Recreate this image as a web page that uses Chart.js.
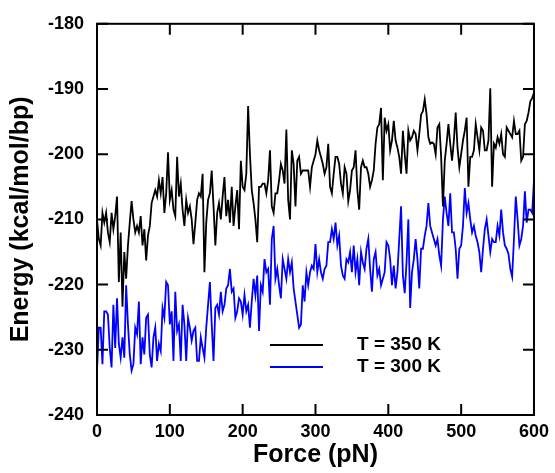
<!DOCTYPE html>
<html>
<head>
<meta charset="utf-8">
<title>Energy vs Force</title>
<script src="https://cdn.jsdelivr.net/npm/chart.js@4.4.0/dist/chart.umd.min.js"></script>
<style>
    html, body { margin: 0; padding: 0; background: #fff; }
    #wrap { width: 555px; height: 473px; }
</style>
</head>
<body>
<div id="wrap"><canvas id="energy-chart" width="555" height="473"></canvas></div>
<script>
// Force values (pN), read every 2.5 pN
const force = [
    0, 2.5, 5, 7.5, 10, 12.5, 15, 17.5, 20, 22.5,
    25, 27.5, 30, 32.5, 35, 37.5, 40, 42.5, 45, 47.5,
    50, 52.5, 55, 57.5, 60, 62.5, 65, 67.5, 70, 72.5,
    75, 77.5, 80, 82.5, 85, 87.5, 90, 92.5, 95, 97.5,
    100, 102.5, 105, 107.5, 110, 112.5, 115, 117.5, 120, 122.5,
    125, 127.5, 130, 132.5, 135, 137.5, 140, 142.5, 145, 147.5,
    150, 152.5, 155, 157.5, 160, 162.5, 165, 167.5, 170, 172.5,
    175, 177.5, 180, 182.5, 185, 187.5, 190, 192.5, 195, 197.5,
    200,
    202.5, 205, 207.5, 210, 212.5, 215, 217.5, 220, 222.5, 225,
    227.5, 230, 232.5, 235, 237.5, 240, 242.5, 245, 247.5, 250,
    252.5, 255, 257.5, 260, 262.5, 265, 267.5, 270, 272.5, 275,
    277.5, 280, 282.5, 285, 287.5, 290, 292.5, 295, 297.5, 300,
    302.5, 305, 307.5, 310, 312.5, 315, 317.5, 320, 322.5, 325,
    327.5, 330, 332.5, 335, 337.5, 340, 342.5, 345, 347.5, 350,
    352.5, 355, 357.5, 360, 362.5, 365, 367.5, 370, 372.5, 375,
    377.5, 380, 382.5, 385, 387.5, 390, 392.5, 395, 397.5, 400,
    402.5, 405, 407.5, 410, 412.5, 415, 417.5, 420, 422.5, 425,
    427.5, 430, 432.5, 435, 437.5, 440, 442.5, 445, 447.5, 450,
    452.5, 455, 457.5, 460, 462.5, 465, 467.5, 470, 472.5, 475,
    477.5, 480, 482.5, 485, 487.5, 490, 492.5, 495, 497.5, 500,
    502.5, 505, 507.5, 510, 512.5, 515, 517.5, 520, 522.5, 525,
    527.5, 530, 532.5, 535, 537.5, 540, 542.5, 545, 547.5, 550,
    552.5, 555, 557.5, 560, 562.5, 565, 567.5, 570, 572.5, 575,
    577.5, 580, 582.5, 585, 587.5, 590, 592.5, 595, 597.5, 600
];

// Energy at T = 350 K (kcal/mol/bp)
const energy350 = [
    -210, -213, -214, -209, -210.5, -209, -212, -213.5, -209, -211.5,
    -209.5, -206.5, -219.6, -212, -223.4, -215, -219.1, -214, -210.5, -207.2,
    -210, -212, -211, -212, -209.5, -214, -211.5, -216.3, -212.5, -211,
    -207.5, -206.5, -205.5, -206.5, -204, -206, -203.5, -209, -206, -199.7,
    -207, -205.5, -208.5, -209.5, -200.4, -206.5, -204.5, -208.5, -211, -207,
    -209, -208, -210, -213.8, -210.5, -207, -206, -206.5, -203, -218.1,
    -210.5, -207, -206, -202.5, -208, -214, -209, -207.5, -210, -206.5,
    -203.5, -209.5, -207, -210.5, -205, -211, -208, -205.5, -211.5, -201,
    -205,
    -205.5, -203, -192.6, -200, -205.5, -207.5, -210, -213.5, -205, -205,
    -204.5, -204.5, -206, -204, -199.4, -208, -209, -206, -206, -204,
    -201.5, -202.5, -204.5, -196.2, -207, -210, -199.4, -201.5, -208, -201,
    -200.4, -203, -202.5, -202.5, -202.5, -202.5, -205, -202, -201, -200,
    -197.9, -199.4, -200.4, -201.5, -203, -202, -198.4, -205, -206, -203,
    -200.4, -200.4, -201.5, -204.5, -206, -202, -203, -207.2, -205.5, -202.5,
    -202, -199.4, -205.5, -208.5, -202, -201, -202, -202, -203, -205,
    -204, -202.5, -198.4, -195.9, -195.4, -192.9, -204, -194.4, -196.4, -195.4,
    -199.4, -197.9, -194.9, -197.9, -199, -200.4, -203, -196.4, -200, -203,
    -196.4, -197.9, -197.4, -196.4, -196.9, -199.4, -196.9, -193.9, -193.4, -191.6,
    -193.9, -197.4, -198.4, -198.2, -198.4, -200, -195.9, -195.4, -200.4, -208,
    -201, -198.4, -195.4, -198.4, -201, -197.9, -193.6, -199, -202, -200,
    -197.9, -196.4, -194.4, -205, -200.4, -200.4, -199.4, -195.4, -197.4, -199.4,
    -195.9, -196.4, -199.4, -199.4, -197.9, -189.9, -205, -198.4, -199, -197.4,
    -198.4, -196.9, -200, -200.4, -195.9, -196.4, -196.9, -197.4, -194.9, -196.9,
    -196.9, -196.4, -201, -200.4, -195.4, -194.9, -193.6, -191.9, -191.4, -190.6
];

// Energy at T = 300 K (kcal/mol/bp)
const energy300 = [
    -233.2, -226.6, -226.6, -232.2, -224.1, -224.1, -224.6, -229.7, -232.7, -223.1,
    -229.7, -222.1, -229.1, -231.2, -228.1, -231.2, -220.1, -226.1, -230.7, -233.2,
    -232.2, -226.6, -227.6, -222.6, -232.2, -228.1, -230.7, -225.1, -224.6, -230.7,
    -232.7, -228.1, -226.6, -231.7, -229.1, -230.2, -223.6, -225.1, -219.6, -220.1,
    -226.1, -224.1, -231.7, -221.1, -227.1, -226.1, -231.7, -223.1, -226.1, -231.7,
    -225.1, -226.6, -228.6, -227.1, -226.6, -231.7, -231.7, -228.1, -229.7, -231.2,
    -226.6, -223.1, -219.6, -226.1, -231.7, -223.6, -223.1, -224.6, -221.1, -224.1,
    -223.1, -220.6, -220.1, -217.6, -221.1, -220.6, -225.1, -224.1, -222.1, -222.6,
    -224.6,
    -221.6, -224.1, -223.1, -226.6, -222.6, -219.1, -221.6, -218.6, -227.1, -220.1,
    -221.1, -216.1, -218.1, -217.6, -223.1, -213, -211, -219.1, -217.6, -220.1,
    -222.1, -216.1, -217.6, -219.1, -216.1, -218.1, -216.6, -220.6, -222.6, -224.6,
    -226.6, -226.1, -220.1, -222.6, -218.1, -220.1, -218.1, -217.1, -217.6, -213.8,
    -218.1, -216.1, -218.1, -219.1, -217.6, -217.1, -213.5, -213.5, -211.5, -213,
    -210.5, -214, -212.5, -217.1, -218.6, -219.1, -216.1, -216.6, -215, -218.1,
    -214, -218.1, -216.1, -220.1, -215, -216.6, -217.6, -214.5, -213, -217.6,
    -221.1, -216.1, -215, -218.6, -217.6, -220.1, -219.1, -218.1, -213.5, -214,
    -216.1, -220.1, -217.1, -220.6, -218.1, -213, -208, -218.6, -221.3, -216.6,
    -210, -223.6, -218.1, -216.1, -213, -216.1, -220.6, -214.5, -214.5, -212.5,
    -211, -207.5, -211, -212, -213, -214, -213, -215.5, -217.1, -210,
    -206.5, -209, -211, -206, -212, -212, -214.5, -219.1, -214.5, -214,
    -211, -205.2, -209, -207.5, -210, -212, -211, -212.5, -213.5, -215,
    -218.1, -214.5, -211.5, -210, -212.5, -215, -213, -213.5, -213.5, -211,
    -212.5, -208.5, -212, -214, -214.5, -215.3, -217.6, -218.8, -213, -206.5,
    -210, -214, -213, -211, -205.7, -210.5, -208.5, -208.5, -209, -204
];

const xTicks = [0, 100, 200, 300, 400, 500, 600];
const yTicks = [-240, -230, -220, -210, -200, -190, -180];
const seriesLabels = ["T = 350 K", "T = 300 K"];

const seriesColors = ["#000000", "#0000ff"];
const fontFamily = "'Liberation Sans', Arial, Helvetica, sans-serif";

function toPoints(xs, ys) {
    return xs.map((x, i) => ({ x: x, y: ys[i] }));
}

// Boxed frame, inward ticks on all four sides and the in-plot legend
const frameAndLegend = {
    id: "frameAndLegend",
    afterDatasetsDraw(chart) {
        const { ctx, chartArea: a, scales } = chart;
        const tickLen = 11;
        ctx.save();
        ctx.strokeStyle = "#000";
        ctx.lineWidth = 2;
        ctx.strokeRect(a.left, a.top, a.right - a.left, a.bottom - a.top);

        ctx.beginPath();
        xTicks.forEach((v) => {
            const px = scales.x.getPixelForValue(v);
            ctx.moveTo(px, a.bottom);
            ctx.lineTo(px, a.bottom - tickLen);
            ctx.moveTo(px, a.top);
            ctx.lineTo(px, a.top + tickLen);
        });
        yTicks.forEach((v) => {
            const py = scales.y.getPixelForValue(v);
            ctx.moveTo(a.left, py);
            ctx.lineTo(a.left + tickLen, py);
            ctx.moveTo(a.right, py);
            ctx.lineTo(a.right - tickLen, py);
        });
        ctx.stroke();

        // legend
        ctx.font = "bold 19px " + fontFamily;
        ctx.textBaseline = "middle";
        ctx.fillStyle = "#000";
        seriesLabels.forEach((label, i) => {
            const y = 345 + i * 22;
            ctx.strokeStyle = seriesColors[i];
            ctx.lineWidth = 2;
            ctx.beginPath();
            ctx.moveTo(270, y);
            ctx.lineTo(323, y);
            ctx.stroke();
            ctx.fillText(label, 357, y);
        });
        ctx.restore();
    },
};

const ctx = document.getElementById("energy-chart").getContext("2d");
new Chart(ctx, {
    type: "line",
    data: {
        datasets: [
            {
                label: seriesLabels[0],
                data: toPoints(force, energy350),
                borderColor: seriesColors[0],
                borderWidth: 1.8,
                pointRadius: 0,
                tension: 0,
                fill: false,
            },
            {
                label: seriesLabels[1],
                data: toPoints(force, energy300),
                borderColor: seriesColors[1],
                borderWidth: 1.8,
                pointRadius: 0,
                tension: 0,
                fill: false,
            },
        ],
    },
    options: {
        responsive: false,
        animation: false,
        layout: { padding: { top: 18, right: 19, left: 0, bottom: 0 } },
        plugins: {
            legend: { display: false },
            tooltip: { enabled: false },
        },
        scales: {
            x: {
                type: "linear",
                min: 0,
                max: 600,
                afterBuildTicks: (scale) => {
                    scale.ticks = xTicks.map((v) => ({ value: v }));
                },
                afterFit: (scale) => {
                    scale.height = 58;
                },
                grid: { display: false, drawTicks: false },
                border: { display: false },
                ticks: {
                    color: "#000",
                    padding: 6,
                    maxRotation: 0,
                    font: { family: fontFamily, size: 18, weight: "bold" },
                },
                title: {
                    display: true,
                    text: "Force (pN)",
                    color: "#000",
                    padding: { top: 0, bottom: 3 },
                    font: { family: fontFamily, size: 25, weight: "bold" },
                },
            },
            y: {
                type: "linear",
                min: -240,
                max: -180,
                afterBuildTicks: (scale) => {
                    scale.ticks = yTicks.map((v) => ({ value: v }));
                },
                afterFit: (scale) => {
                    scale.width = 97;
                },
                grid: { display: false, drawTicks: false },
                border: { display: false },
                ticks: {
                    color: "#000",
                    padding: 13,
                    font: { family: fontFamily, size: 18, weight: "bold" },
                },
                title: {
                    display: true,
                    text: "Energy (kcal/mol/bp)",
                    color: "#000",
                    padding: { top: 6, bottom: 0 },
                    font: { family: fontFamily, size: 25, weight: "bold" },
                },
            },
        },
    },
    plugins: [frameAndLegend],
});
</script>
</body>
</html>
